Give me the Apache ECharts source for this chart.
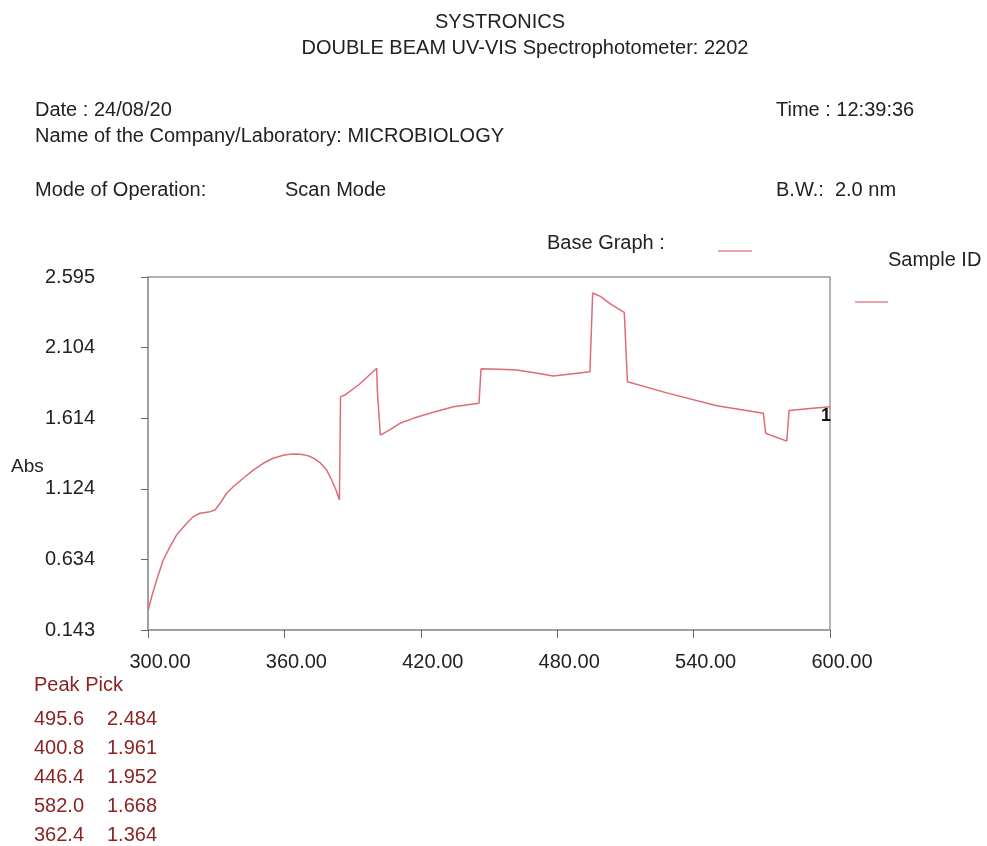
<!DOCTYPE html>
<html><head><meta charset="utf-8">
<script src="https://cdn.jsdelivr.net/npm/echarts@6/dist/echarts.min.js"></script>
<style>html,body{margin:0;padding:0;background:#fff}#c{width:987px;height:846px}</style>
</head><body><div id="c"></div>
<script>
// Wavelength (nm) and absorbance
const wavelength = [300.1,301.6,303.8,306.7,309.7,312.6,317.0,319.9,322.9,327.3,329.5,331.7,334.6,337.5,341.9,346.3,350.7,355.1,359.5,362.4,365.5,368.5,371,373,375.7,378.6,380.8,382.7,384.2,384.7,386.6,393,400.6,400.9,402.2,406.5,410.8,417,424,434.3,445.6,446.5,455,462,470,478.3,494.4,495.6,499,503.2,509.5,510.9,528.2,550.2,570.7,571.7,581,582,590,600];
const absorbance = [0.282,0.374,0.490,0.629,0.722,0.803,0.884,0.930,0.954,0.965,0.977,1.023,1.093,1.138,1.197,1.254,1.301,1.336,1.357,1.364,1.366,1.361,1.350,1.335,1.305,1.254,1.185,1.115,1.046,1.764,1.775,1.85,1.961,1.80,1.497,1.535,1.579,1.615,1.648,1.694,1.718,1.958,1.955,1.949,1.93,1.907,1.937,2.484,2.46,2.41,2.35,1.868,1.79,1.70,1.648,1.51,1.455,1.668,1.68,1.694];
const yTicks = [0.143,0.634,1.124,1.614,2.104,2.595];
const xTicks = [300,360,420,480,540,600];
const peakWl = ['495.6','400.8','446.4','582.0','362.4'];
const peakAbs = ['2.484','1.961','1.952','1.668','1.364'];

const FONT = 'Liberation Sans';
const chart = echarts.init(document.getElementById('c'));
const txt = (x,y,s,opt={}) => ({type:'text',x:x,y:y,style:Object.assign({text:s,font:'20px '+FONT,fill:'#222',verticalAlign:'middle',align:'left'},opt)});
const graphics = [
  txt(500,22,'SYSTRONICS',{align:'center'}),
  txt(525,48,'DOUBLE BEAM UV-VIS Spectrophotometer: 2202',{align:'center'}),
  txt(35,110,'Date : 24/08/20'),
  txt(35,136,'Name of the Company/Laboratory: MICROBIOLOGY'),
  txt(35,190,'Mode of Operation:'),
  txt(285,190,'Scan Mode'),
  txt(776,110,'Time : 12:39:36'),
  txt(776,190,'B.W.:  2.0 nm'),
  txt(547,243,'Base Graph :'),
  txt(888,260,'Sample ID'),
  {type:'line',shape:{x1:718,y1:251,x2:752,y2:251},style:{stroke:'#e7848c',lineWidth:1.5}},
  {type:'line',shape:{x1:855,y1:302,x2:888,y2:302},style:{stroke:'#e7848c',lineWidth:1.5}},
  txt(11,467,'Abs',{font:'19px '+FONT}),
  txt(34,685,'Peak Pick',{fill:'#8b2323'})
];
peakWl.forEach((w,i)=>{
  graphics.push(txt(34,719+i*29,w,{fill:'#8b2323'}));
  graphics.push(txt(107,719+i*29,peakAbs[i],{fill:'#8b2323'}));
});

chart.setOption({
  animation:false,
  grid:{left:148,top:277,width:682,height:353,show:true,borderColor:'#9a9a9a',borderWidth:1.5},
  xAxis:{type:'value',min:300,max:600,interval:60,
    axisLine:{lineStyle:{color:'#9a9a9a',width:1.5}},
    axisTick:{length:8,lineStyle:{color:'#666'}},
    splitLine:{show:false},
    axisLabel:{margin:22,padding:[0,0,0,24],color:'#222',fontSize:20,fontFamily:FONT,formatter:v=>v.toFixed(2),customValues:xTicks}},
  yAxis:{type:'value',min:0.143,max:2.595,
    axisLine:{show:true,lineStyle:{color:'#9a9a9a',width:1.5}},
    axisTick:{show:true,length:7,lineStyle:{color:'#666'},customValues:yTicks},
    splitLine:{show:false},
    axisLabel:{margin:53,align:'right',color:'#222',fontSize:20,fontFamily:FONT,customValues:yTicks,formatter:v=>v.toFixed(3)}},
  series:[{type:'line',data:wavelength.map((w,i)=>[w,absorbance[i]]),showSymbol:false,
    lineStyle:{color:'#e06a78',width:1.5},
    endLabel:{show:true,formatter:'1',color:'#111',fontWeight:'bold',fontSize:18,fontFamily:FONT,offset:[-17,9]}}],
  graphic:graphics
});
</script></body></html>
